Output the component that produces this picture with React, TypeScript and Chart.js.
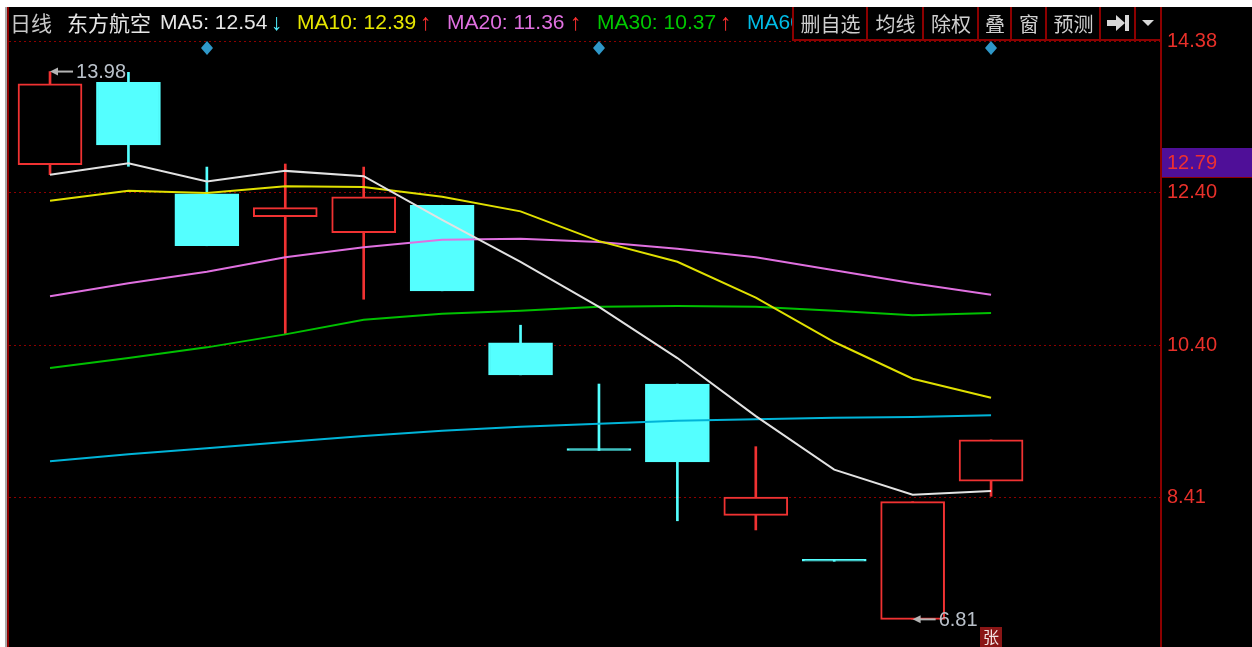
import React, { useEffect, useRef } from "react";
import { Chart, registerables } from "chart.js";

Chart.register(...registerables);

const W = 1252;
const H = 647;

// ---- data ----
const candleIndex = [0, 1, 2, 3, 4, 5, 6, 7, 8, 9, 10, 11, 12];
const opens = [12.76, 13.84, 12.38, 12.08, 11.87, 12.23, 10.43, 9.02, 9.89, 8.17, 7.57, 6.81, 8.62];
const highs = [13.98, 13.97, 12.73, 12.77, 12.73, 12.23, 10.66, 9.89, 9.89, 9.07, 7.57, 8.35, 9.16];
const lows = [12.63, 12.74, 11.7, 10.55, 11.0, 11.11, 10.01, 9.02, 8.1, 7.98, 7.57, 6.81, 8.42];
const closes = [13.82, 13.02, 11.7, 12.2, 12.34, 11.11, 10.01, 9.02, 8.87, 8.41, 7.57, 8.35, 9.16];

const ma5 = [12.63, 12.78, 12.54, 12.68, 12.61, 12.04, 11.49, 10.9, 10.23, 9.47, 8.77, 8.44, 8.49];
const ma10 = [12.29, 12.42, 12.39, 12.48, 12.47, 12.34, 12.15, 11.76, 11.49, 11.02, 10.44, 9.96, 9.71];
const ma20 = [11.04, 11.21, 11.36, 11.55, 11.68, 11.78, 11.79, 11.75, 11.66, 11.55, 11.38, 11.21, 11.06];
const ma30 = [10.1, 10.23, 10.37, 10.54, 10.73, 10.81, 10.85, 10.9, 10.91, 10.9, 10.85, 10.79, 10.82];
const ma60 = [8.88, 8.97, 9.05, 9.13, 9.21, 9.28, 9.33, 9.37, 9.41, 9.43, 9.45, 9.46, 9.48];

const yTicks = [14.38, 12.4, 10.4, 8.41];
const yMin = 6.448;
const yMax = 14.38;
const xMin = -0.523;
const xMax = 14.167;

const markerIdx = [2, 7, 12];
const cursorIdx = 2;
const cursorPrice = 12.79;
const stockName = "东方航空";
const periodName = "日线";
const toolbarLabels = ["删自选", "均线", "除权", "叠", "窗", "预测"];
const badgeText = "张";

const RED = "#f03232";
const CYAN = "#54ffff";
const DARKRED = "#8c0000";
const LATIN = '"Liberation Sans", Arial, sans-serif';
const CJK = '"Noto Sans CJK SC", "Noto Sans", sans-serif';

const isUp = (i: number) => closes[i] > opens[i];

function drawTag(ctx: CanvasRenderingContext2D, px: number, py: number, label: string) {
  ctx.save();
  ctx.strokeStyle = "#b4b4b4";
  ctx.fillStyle = "#b4b4b4";
  ctx.lineWidth = 2;
  ctx.beginPath();
  ctx.moveTo(px + 5, py);
  ctx.lineTo(px + 23, py);
  ctx.stroke();
  ctx.beginPath();
  ctx.moveTo(px, py);
  ctx.lineTo(px + 8, py - 4);
  ctx.lineTo(px + 8, py + 4);
  ctx.closePath();
  ctx.fill();
  ctx.fillStyle = "#b9c0c9";
  ctx.font = `20px ${LATIN}`;
  ctx.textBaseline = "middle";
  ctx.textAlign = "left";
  ctx.fillText(label, px + 26, py + 1);
  ctx.restore();
}

const overlayPlugin = {
  id: "overlay",
  beforeDraw(chart: any) {
    const ctx: CanvasRenderingContext2D = chart.ctx;
    ctx.save();
    ctx.fillStyle = "#ffffff";
    ctx.fillRect(0, 0, W, H);
    ctx.fillStyle = "#000000";
    ctx.fillRect(5, 7, W - 5, H - 7);
    ctx.fillStyle = "#a8a8a8";
    ctx.fillRect(5, 7, 2, H - 7);
    ctx.fillStyle = DARKRED;
    ctx.fillRect(7, 7, 2, H - 7);
    ctx.fillRect(1160, 7, 2, H - 7);
    ctx.restore();
  },
  afterDatasetsDraw(chart: any) {
    const ctx: CanvasRenderingContext2D = chart.ctx;
    const { x, y } = chart.scales;
    ctx.save();
    markerIdx.forEach((i) => {
      const px = Math.round(x.getPixelForValue(i));
      const py = 48;
      ctx.beginPath();
      ctx.moveTo(px, py - 7);
      ctx.lineTo(px + 6, py);
      ctx.lineTo(px, py + 7);
      ctx.lineTo(px - 6, py);
      ctx.closePath();
      ctx.fillStyle = "#2f98c9";
      ctx.fill();
    });
    ctx.restore();

    const hiIdx = highs.indexOf(Math.max(...highs));
    const loIdx = lows.indexOf(Math.min(...lows));
    drawTag(ctx, x.getPixelForValue(hiIdx), y.getPixelForValue(highs[hiIdx]), highs[hiIdx].toFixed(2));
    drawTag(ctx, x.getPixelForValue(loIdx), y.getPixelForValue(lows[loIdx]), lows[loIdx].toFixed(2));

    // badge under the last candle
    const last = candleIndex[candleIndex.length - 1];
    const bx = Math.round(x.getPixelForValue(last));
    ctx.save();
    ctx.fillStyle = "#8a1616";
    ctx.fillRect(bx - 11, 627, 22, 20);
    ctx.fillStyle = "#f2e4e4";
    ctx.font = `16px ${CJK}`;
    ctx.textAlign = "center";
    ctx.textBaseline = "middle";
    ctx.fillText(badgeText, bx, 637);
    ctx.restore();
  },
  afterDraw(chart: any) {
    const ctx: CanvasRenderingContext2D = chart.ctx;
    const { y } = chart.scales;
    const py = y.getPixelForValue(cursorPrice);
    ctx.save();
    ctx.fillStyle = "#4f0f98";
    ctx.fillRect(1162, Math.round(py - 14.5), W - 1162, 29);
    ctx.fillStyle = DARKRED;
    ctx.fillRect(1162, Math.round(py + 14.5), W - 1162, 1);
    ctx.fillStyle = "#ee3030";
    ctx.font = `20px ${LATIN}`;
    ctx.textBaseline = "middle";
    ctx.textAlign = "left";
    ctx.fillText(cursorPrice.toFixed(2), 1167, py + 1);
    ctx.restore();
  },
};

function lineDs(label: string, values: number[], color: string) {
  return {
    type: "line" as const,
    label,
    data: values.map((v, i) => ({ x: candleIndex[i], y: v })),
    borderColor: color,
    borderWidth: 2,
    pointRadius: 0,
    tension: 0,
    fill: false,
    order: 0,
  };
}

export default function App() {
  const ref = useRef<HTMLCanvasElement>(null);

  useEffect(() => {
    const canvas = ref.current;
    if (!canvas) return;
    const bodyData = candleIndex.map((i) => ({
      x: i,
      y: [Math.min(opens[i], closes[i]), Math.max(opens[i], closes[i])],
    }));
    const wickData = candleIndex.map((i) => ({ x: i, y: [lows[i], highs[i]] }));

    const chart = new Chart(canvas, {
      type: "bar",
      data: {
        datasets: [
          lineDs("MA5", ma5, "#e2e2e2"),
          lineDs("MA10", ma10, "#e0e000"),
          lineDs("MA20", ma20, "#e070e0"),
          lineDs("MA30", ma30, "#00c000"),
          lineDs("MA60", ma60, "#00b4d8"),
          {
            type: "bar",
            label: "body",
            data: bodyData as any,
            grouped: false,
            barThickness: 64,
            maxBarThickness: 64,
            minBarLength: 2,
            borderWidth: 2,
            borderSkipped: false,
            backgroundColor: candleIndex.map((i) => (isUp(i) ? "#000000" : CYAN)),
            borderColor: candleIndex.map((i) => (isUp(i) ? RED : CYAN)),
            order: 1,
          } as any,
          {
            type: "bar",
            label: "wick",
            data: wickData as any,
            grouped: false,
            barThickness: 2,
            maxBarThickness: 2,
            minBarLength: 1,
            borderWidth: 0,
            backgroundColor: candleIndex.map((i) => (isUp(i) ? RED : CYAN)),
            order: 2,
          } as any,
        ],
      },
      options: {
        animation: false,
        responsive: false,
        maintainAspectRatio: false,
        layout: { padding: { top: 41, left: 9, right: 0, bottom: 0 } },
        plugins: { legend: { display: false }, tooltip: { enabled: false } },
        scales: {
          x: {
            type: "linear",
            display: false,
            min: xMin,
            max: xMax,
            offset: false,
          },
          y: {
            type: "linear",
            position: "right",
            min: yMin,
            max: yMax,
            afterFit: (scale: any) => {
              scale.width = W - 1161;
              scale.paddingTop = 0;
              scale.paddingBottom = 0;
            },
            afterBuildTicks: (scale: any) => {
              scale.ticks = yTicks.map((v) => ({ value: v }));
            },
            grid: {
              color: DARKRED,
              lineWidth: 1,
              drawTicks: false,
            },
            border: { display: true, color: DARKRED, width: 2, dash: [2, 3] },
            ticks: {
              autoSkip: false,
              padding: 6,
              color: "#e8302a",
              font: { family: '"Liberation Sans", Arial, sans-serif', size: 20 },
              callback: (v: any) => Number(v).toFixed(2),
            },
          },
        },
      },
      plugins: [overlayPlugin],
    } as any);
    return () => chart.destroy();
  }, []);

  const hdr = (text: string, left: number, color: string, font: string, size = 21, bold = false) => (
    <span
      key={text + left}
      style={{
        position: "absolute",
        left,
        top: 10,
        height: 24,
        lineHeight: "24px",
        fontSize: size,
        fontWeight: bold ? 700 : 400,
        fontFamily: font,
        color,
        whiteSpace: "nowrap",
      }}
    >
      {text}
    </span>
  );

  const btnEdges = [793, 867, 923, 978, 1011, 1046, 1100, 1135, 1161];

  return (
    <div
      style={{
        position: "absolute",
        left: 0,
        top: 0,
        width: W,
        height: H,
        background: "#fff",
        overflow: "hidden",
      }}
    >
      <canvas ref={ref} width={W} height={H} style={{ position: "absolute", left: 0, top: 0, width: W, height: H }} />
      {hdr(periodName, 10, "#c8c8c8", CJK)}
      {hdr(stockName, 67, "#e6e6e6", CJK)}
      {hdr(`MA5: ${ma5[cursorIdx].toFixed(2)}`, 160, "#e6e6e6", LATIN)}
      {hdr("↓", 271, "#50f0ff", LATIN, 23, true)}
      {hdr(`MA10: ${ma10[cursorIdx].toFixed(2)}`, 297, "#e6e600", LATIN)}
      {hdr("↑", 420, "#ff3030", LATIN, 23, true)}
      {hdr(`MA20: ${ma20[cursorIdx].toFixed(2)}`, 447, "#e070e0", LATIN)}
      {hdr("↑", 570, "#ff3030", LATIN, 23, true)}
      {hdr(`MA30: ${ma30[cursorIdx].toFixed(2)}`, 597, "#00c800", LATIN)}
      {hdr("↑", 720, "#ff3030", LATIN, 23, true)}
      {hdr(`MA60: ${ma60[cursorIdx].toFixed(2)}`, 747, "#00bce6", LATIN)}
      {btnEdges.slice(0, -1).map((l, k) => {
        const r = btnEdges[k + 1];
        const last = k === btnEdges.length - 2;
        let content: React.ReactNode = toolbarLabels[k];
        if (k === 6) {
          content = (
            <svg width="24" height="18" viewBox="0 0 24 18">
              <rect x="1" y="6" width="10" height="6" fill="#d8d8d8" />
              <polygon points="10,1 19,9 10,17" fill="#d8d8d8" />
              <rect x="19" y="1" width="4" height="16" fill="#d8d8d8" />
            </svg>
          );
        } else if (k === 7) {
          content = (
            <svg width="12" height="8" viewBox="0 0 12 8">
              <polygon points="0,1 12,1 6,7" fill="#d8d8d8" />
            </svg>
          );
        }
        return (
          <div
            key={"b" + k}
            style={{
              position: "absolute",
              left: l - 1,
              top: 7,
              width: r - l + (last ? 2 : 1),
              height: 34,
              boxSizing: "border-box",
              borderLeft: `2px solid ${DARKRED}`,
              borderRight: last ? `2px solid ${DARKRED}` : "none",
              borderBottom: `2px solid ${DARKRED}`,
              background: "#000",
              color: "#cfcfcf",
              fontFamily: CJK,
              fontSize: 20,
              display: "flex",
              alignItems: "center",
              justifyContent: "center",
              whiteSpace: "nowrap",
              zIndex: 2,
            }}
          >
            {content}
          </div>
        );
      })}
    </div>
  );
}
